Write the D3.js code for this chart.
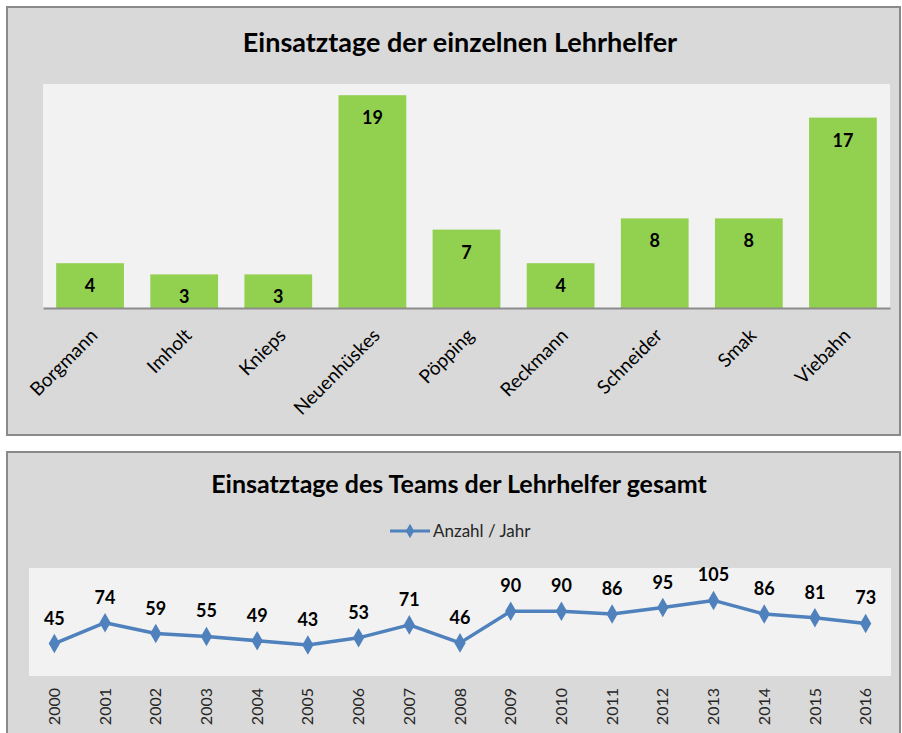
<!DOCTYPE html>
<html>
<head>
<meta charset="utf-8">
<script src="https://cdn.jsdelivr.net/npm/d3@7"></script>
<style>
    body { margin: 0; background: #ffffff; }
    svg text { font-family: Lato, "Open Sans", sans-serif; }
</style>
</head>
<body>
<svg id="chart" width="902" height="733"></svg>
<script>
// Einsatztage pro Lehrhelfer
const helpers = ['Borgmann', 'Imholt', 'Knieps', 'Neuenhüskes', 'Pöpping', 'Reckmann', 'Schneider', 'Smak', 'Viebahn'];
const helperDays = [4, 3, 3, 19, 7, 4, 8, 8, 17];

// Einsatztage des Teams pro Jahr
const years = ['2000', '2001', '2002', '2003', '2004', '2005', '2006', '2007', '2008',
    '2009', '2010', '2011', '2012', '2013', '2014', '2015', '2016'];
const teamDays = [45, 74, 59, 55, 49, 43, 53, 71, 46, 90, 90, 86, 95, 105, 86, 81, 73];

const svg = d3.select('#chart');

const green = '#92d050';
const blue = '#4f81bd';
const frameFill = '#d9d9d9';
const plotFill = '#f2f2f2';
const frameStroke = '#8a8a8a';

// ---------- top chart: bars ----------
svg.append('rect')
    .attr('x', 7).attr('y', 7)
    .attr('width', 893).attr('height', 428)
    .attr('fill', frameFill)
    .attr('stroke', frameStroke)
    .attr('stroke-width', 2);

const bar = { left: 43, right: 890, top: 84, bottom: 308 };

svg.append('rect')
    .attr('x', bar.left).attr('y', bar.top)
    .attr('width', bar.right - bar.left).attr('height', bar.bottom - bar.top)
    .attr('fill', plotFill);

svg.append('text')
    .attr('x', 460).attr('y', 52)
    .attr('text-anchor', 'middle')
    .attr('font-size', '27px')
    .attr('font-weight', 'bold')
    .attr('fill', '#000')
    .text('Einsatztage der einzelnen Lehrhelfer');

const xBar = d3.scaleBand()
    .domain(helpers)
    .range([bar.left, bar.right])
    .paddingInner(0.28)
    .paddingOuter(0.14);

const yBar = d3.scaleLinear()
    .domain([0, 20])
    .range([bar.bottom, bar.top]);

const barData = helpers.map((name, i) => ({ name, value: helperDays[i] }));

svg.append('g')
    .selectAll('rect')
    .data(barData)
    .enter()
    .append('rect')
    .attr('x', d => xBar(d.name))
    .attr('y', d => yBar(d.value))
    .attr('width', xBar.bandwidth())
    .attr('height', d => yBar(0) - yBar(d.value))
    .attr('fill', green);

svg.append('g')
    .selectAll('text')
    .data(barData)
    .enter()
    .append('text')
    .attr('x', d => xBar(d.name) + xBar.bandwidth() / 2)
    .attr('y', d => yBar(d.value) + 29)
    .attr('text-anchor', 'middle')
    .attr('font-size', '18px')
    .attr('font-weight', 'bold')
    .attr('fill', '#000')
    .text(d => d.value);

// x axis with rotated names
const xAxisBar = svg.append('g')
    .attr('transform', `translate(0,${bar.bottom})`)
    .call(d3.axisBottom(xBar).tickSize(0).tickPadding(0));
xAxisBar.select('.domain')
    .attr('stroke', '#8c8c8c')
    .attr('stroke-width', 2);
xAxisBar.selectAll('.tick text')
    .attr('font-size', '19px')
    .attr('fill', '#000')
    .attr('text-anchor', 'end')
    .attr('dy', '0.35em')
    .attr('transform', 'translate(4,24) rotate(-45)');

// ---------- bottom chart: line ----------
svg.append('rect')
    .attr('x', 7).attr('y', 452)
    .attr('width', 893).attr('height', 300)
    .attr('fill', frameFill)
    .attr('stroke', frameStroke)
    .attr('stroke-width', 2);

const ln = { left: 29, right: 891, top: 568, bottom: 676 };

svg.append('rect')
    .attr('x', ln.left).attr('y', ln.top)
    .attr('width', ln.right - ln.left).attr('height', ln.bottom - ln.top)
    .attr('fill', plotFill);

svg.append('text')
    .attr('x', 459).attr('y', 493)
    .attr('text-anchor', 'middle')
    .attr('font-size', '25px')
    .attr('font-weight', 'bold')
    .attr('fill', '#000')
    .text('Einsatztage des Teams der Lehrhelfer gesamt');

// legend
const legend = svg.append('g').attr('transform', 'translate(390,531)');
legend.append('line')
    .attr('x1', 0).attr('x2', 40)
    .attr('stroke', blue)
    .attr('stroke-width', 3);
legend.append('path')
    .attr('d', d3.symbol(d3.symbolDiamond, 60)())
    .attr('transform', 'translate(20,0)')
    .attr('fill', blue);
legend.append('text')
    .attr('x', 43).attr('dy', '0.35em')
    .attr('font-size', '17px')
    .attr('fill', '#262626')
    .text('Anzahl / Jahr');

const xLine = d3.scaleBand()
    .domain(years)
    .range([ln.left, ln.right]);

const yLine = d3.scaleLinear()
    .domain([0, 150])
    .range([ln.bottom, ln.top]);

const lineData = years.map((year, i) => ({ year, value: teamDays[i] }));
const cx = d => xLine(d.year) + xLine.bandwidth() / 2;

svg.append('path')
    .datum(lineData)
    .attr('fill', 'none')
    .attr('stroke', blue)
    .attr('stroke-width', 3.5)
    .attr('stroke-linejoin', 'round')
    .attr('d', d3.line().x(cx).y(d => yLine(d.value)));

svg.append('g')
    .selectAll('path')
    .data(lineData)
    .enter()
    .append('path')
    .attr('d', d3.symbol(d3.symbolDiamond, 110)())
    .attr('transform', d => `translate(${cx(d)},${yLine(d.value)})`)
    .attr('fill', blue);

svg.append('g')
    .selectAll('text')
    .data(lineData)
    .enter()
    .append('text')
    .attr('x', cx)
    .attr('y', d => yLine(d.value) - 19)
    .attr('text-anchor', 'middle')
    .attr('font-size', '18px')
    .attr('font-weight', 'bold')
    .attr('fill', '#000')
    .text(d => d.value);

const xAxisLine = svg.append('g')
    .attr('transform', `translate(0,${ln.bottom})`)
    .call(d3.axisBottom(xLine).tickSize(0).tickPadding(0));
xAxisLine.select('.domain').remove();
xAxisLine.selectAll('.tick text')
    .attr('font-size', '16px')
    .attr('fill', '#262626')
    .attr('text-anchor', 'end')
    .attr('dy', '0.35em')
    .attr('transform', 'translate(0,12) rotate(-90)');
</script>
</body>
</html>
